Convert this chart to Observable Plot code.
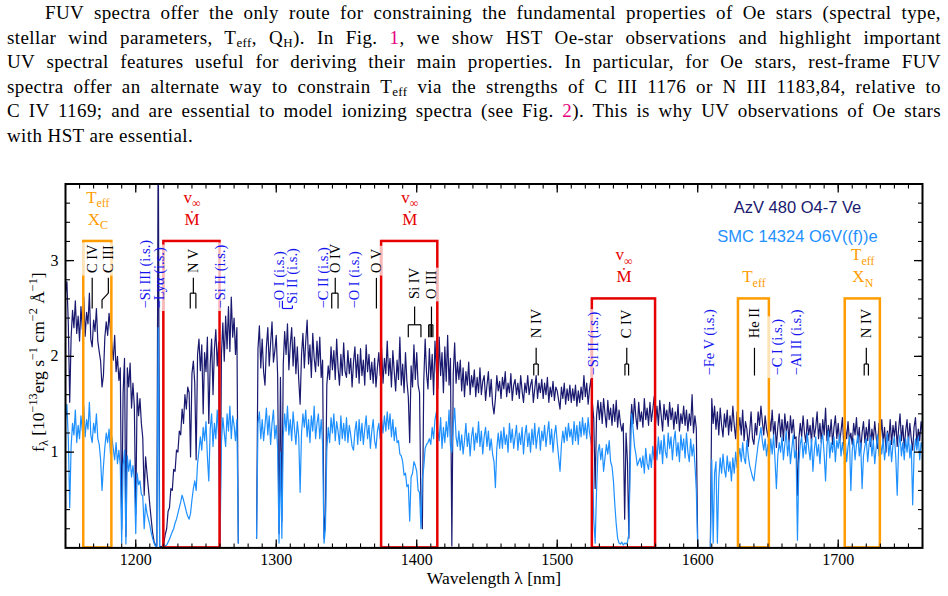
<!DOCTYPE html>
<html>
<head>
<meta charset="utf-8">
<script src="https://cdn.jsdelivr.net/npm/d3@7"></script>
<script src="https://cdn.jsdelivr.net/npm/@observablehq/plot@0.6"></script>
<style>
  html, body { margin: 0; padding: 0; background: #fff; width: 948px; height: 596px; overflow: hidden; }
  #text { height: 150px; box-sizing: border-box; padding: 1px 7px 0 7px;
          font-family: "Liberation Serif", serif; font-size: 19px; line-height: 24.5px;
          letter-spacing: 0.4px; color: #000; }
  #text div { font-family: "Liberation Serif", serif; text-align: justify; text-align-last: justify; height: 24.5px; }
  #text div.first { text-indent: 38px; }
  #text div.last { text-align-last: left; }
  #text sub { font-size: 13px; line-height: 0; vertical-align: -3px; }
  #text .ref { color: #e6007e; }
  #chart svg { display: block; }
</style>
</head>
<body>
<div id="text">
  <div class="first">FUV spectra offer the only route for constraining the fundamental properties of Oe stars (spectral type,</div>
  <div>stellar wind parameters, T<sub>eff</sub>, Q<sub>H</sub>). In Fig. <span class="ref">1</span>, we show HST Oe-star observations and highlight important</div>
  <div>UV spectral features useful for deriving their main properties. In particular, for Oe stars, rest-frame FUV</div>
  <div>spectra offer an alternate way to constrain T<sub>eff</sub> via the strengths of C III 1176 or N III 1183,84, relative to</div>
  <div>C IV 1169; and are essential to model ionizing spectra (see Fig. <span class="ref">2</span>). This is why UV observations of Oe stars</div>
  <div class="last"><span style="font-family: 'Liberation Serif', serif">with HST are essential.</span></div>
</div>
<div id="chart"></div>
<script>
// ---------------------------------------------------------------------------
// Spectra (flux in 1e-13 erg/s/cm2/A), sampled every 1 nm.
// Three detector segments: 1150-1273, 1286-1600, 1609-1760 nm.
// ---------------------------------------------------------------------------
const segmentStart = [1150, 1286, 1609];

// AzV 480 (O4-7 Ve)
const azvA = [
  2.66,2.78,2.34,1.52,2.20,2.48,2.30,2.58,2.24,2.42,
  2.16,2.52,2.28,2.62,2.21,2.46,2.34,2.66,2.18,2.10,
  2.38,2.26,2.50,2.16,2.05,1.95,1.68,1.80,2.20,2.36,
  2.22,2.45,2.28,2.12,1.96,2.22,1.84,2.00,1.75,1.88,
  0.20,1.62,1.98,0.12,1.88,1.68,1.93,1.46,1.72,1.48,
  0.35,1.62,1.38,1.56,1.30,1.15,0.55,0.95,0.78,0.62,
  0.45,0.30,0.16,0.07,0.03,0.02,4.50,0.02,0.01,0.02,
  0.05,0.14,0.20,0.38,0.42,0.62,0.60,0.82,0.80,1.02,
  1.00,1.22,1.18,1.45,1.30,1.60,1.45,1.68,1.62,0.95,
  1.82,1.95,1.72,0.92,2.02,2.18,1.85,2.12,1.40,2.04,
  1.84,2.20,1.30,1.92,2.18,1.60,2.08,2.28,1.90,2.15,
  0.08,2.02,2.35,1.95,2.42,2.08,2.52,2.05,2.62,2.20,
  2.40,2.02,2.30,0.05
];
const azvB = [
  0.10,2.08,2.32,1.88,
  2.18,1.84,1.70,2.10,2.30,1.90,2.14,2.36,1.94,2.06,
  2.22,1.80,0.15,1.78,0.28,1.92,2.26,2.02,2.34,1.86,
  2.12,2.30,1.90,2.20,1.82,2.10,1.76,1.50,2.02,2.24,
  1.88,2.16,2.38,1.92,2.12,1.78,2.24,1.98,1.84,2.16,
  1.90,2.20,1.78,1.96,0.10,0.35,1.70,1.90,1.76,2.10,
  1.86,2.06,1.76,2.18,1.88,1.70,2.02,1.80,2.14,1.84,
  1.78,2.06,1.82,1.98,1.68,1.94,2.10,1.78,2.02,1.72,
  2.08,1.80,1.96,1.70,2.12,1.84,2.02,1.76,1.94,1.72,
  1.98,1.68,1.88,2.04,1.80,2.08,1.72,1.98,1.82,2.16,
  1.80,1.98,1.68,2.06,1.84,1.64,1.96,1.76,2.20,1.70,
  1.92,1.62,2.04,1.74,1.58,1.10,1.90,1.68,2.12,1.76,
  2.04,1.70,1.62,0.45,0.20,1.74,2.18,1.82,1.66,2.08,
  1.76,2.02,1.60,2.16,1.84,1.66,2.20,1.80,2.04,1.62,
  2.10,1.74,2.22,1.70,1.98,0.02,1.82,2.14,1.72,1.94,
  1.76,1.96,1.64,1.88,1.58,1.84,1.70,1.94,1.60,1.80,
  1.68,1.86,1.58,1.78,1.62,1.88,1.60,1.74,1.80,1.54,
  1.70,1.84,1.58,1.76,1.50,1.40,1.56,1.80,1.64,1.74,
  1.56,1.78,1.66,1.84,1.58,1.72,1.62,1.82,1.54,1.70,
  1.76,1.60,1.72,1.56,1.80,1.64,1.52,1.72,1.62,1.80,
  1.60,1.70,1.76,1.52,1.66,1.80,1.56,1.72,1.62,1.76,
  1.56,1.72,1.60,1.78,1.52,1.68,1.58,1.74,1.54,1.68,
  1.64,1.54,1.45,1.68,1.56,1.72,1.50,1.66,1.54,1.70,
  1.52,1.66,1.54,1.70,1.48,1.64,1.52,1.68,1.55,1.80,
  1.58,1.72,1.50,1.66,1.76,1.52,1.35,0.62,1.38,1.54,
  1.34,1.52,1.30,1.56,1.40,1.26,1.54,1.34,1.46,1.28,
  1.50,1.32,1.54,1.26,1.44,1.30,1.22,1.30,0.30,1.20,
  0.90,0.10,1.25,1.50,1.30,1.56,1.36,1.24,1.52,1.32,
  1.42,1.26,1.56,1.34,1.46,1.28,1.52,1.32,1.44,1.58,
  1.30,1.48,1.28,1.54,1.38,1.22,1.50,1.34,1.44,1.27,
  1.52,1.34,1.46,1.24,1.42,1.30,1.50,1.22,1.40,1.30,
  1.48,1.28,1.44,1.22,1.40,1.28,1.60,1.20,1.38,1.25,
  0.02
];
const azvC = [
  0.02,
  1.56,1.30,1.48,1.24,1.42,1.18,1.46,1.28,1.16,1.40,
  1.26,1.44,1.18,1.38,1.22,1.48,1.28,1.14,1.42,1.22,
  1.36,1.18,1.44,1.12,1.32,1.24,1.06,1.22,1.42,1.14,
  1.08,1.30,1.18,1.42,1.28,1.48,1.32,1.18,1.38,1.24,
  1.16,1.36,1.22,1.44,1.18,1.32,1.05,1.26,1.40,1.16,
  1.34,1.12,1.40,1.22,1.32,1.10,1.38,1.20,1.34,1.14,
  1.16,0.55,1.14,1.30,1.16,1.38,1.20,1.10,1.34,1.18,
  1.28,1.10,1.36,1.16,1.26,1.42,1.14,1.30,1.10,1.34,
  1.18,1.46,1.12,1.28,1.16,1.34,1.08,1.26,1.38,1.14,
  1.30,1.10,1.22,1.36,1.06,1.26,1.14,1.32,1.12,1.20,
  1.08,1.30,1.18,1.36,1.10,1.26,1.02,1.20,1.32,1.10,
  1.26,1.12,1.34,1.06,1.24,1.12,1.32,1.16,1.04,1.30,
  1.14,1.34,1.10,1.26,1.00,1.22,1.12,1.34,1.08,1.28,
  1.16,1.32,1.06,1.24,1.40,1.12,1.28,1.04,1.22,1.34,
  1.10,1.30,1.14,1.02,1.26,1.36,1.08,1.24,1.12,1.32,
  1.20
];

// SMC 14324 (O6V((f))e)
const smcA = [
  1.34,1.50,1.14,0.42,1.06,1.30,1.18,1.44,1.10,1.28,
  1.14,1.38,1.22,1.48,1.16,1.34,1.24,1.52,1.18,1.10,
  1.30,1.20,1.40,1.14,1.08,0.92,0.60,0.85,1.05,1.20,
  1.10,1.24,0.98,1.16,1.04,0.92,1.10,0.88,1.02,0.86,
  0.05,0.86,1.02,0.04,0.96,0.80,0.92,0.74,0.86,0.72,
  0.15,0.78,0.66,0.70,0.56,0.54,0.20,0.46,0.36,0.30,
  0.24,0.16,0.10,0.05,0.02,0.01,2.30,0.01,0.00,0.01,
  0.01,0.02,0.03,0.06,0.09,0.13,0.17,0.20,0.26,0.30,
  0.36,0.42,0.48,0.55,0.50,0.44,0.38,0.33,0.30,0.36,
  0.50,0.62,0.70,0.60,0.88,1.02,1.16,1.02,1.26,1.12,
  1.32,0.95,0.70,1.24,1.40,1.06,1.30,1.14,1.44,1.16,
  0.05,1.10,1.36,1.20,1.06,1.40,1.22,1.48,1.14,1.38,
  1.28,1.12,1.34,0.05
];
const smcB = [
  0.10,1.30,1.42,1.14,
  1.34,1.12,1.28,1.46,1.18,1.38,1.08,1.30,1.44,1.14,
  1.28,1.04,0.05,1.00,0.10,1.16,1.40,1.22,1.48,1.18,
  1.34,1.12,1.42,1.24,1.08,1.32,1.16,0.58,1.20,1.40,
  1.26,1.44,1.16,1.34,1.10,1.38,1.22,1.48,1.14,1.30,
  1.40,1.14,1.34,1.08,0.05,0.20,1.02,1.26,1.10,1.36,
  1.20,1.40,1.12,1.32,1.22,1.08,1.38,1.14,1.30,1.12,
  1.36,1.10,1.28,1.18,1.06,1.02,1.22,1.32,1.08,1.34,
  1.12,1.30,1.08,1.24,1.38,1.14,1.28,1.04,1.22,1.34,
  1.12,1.04,1.22,1.30,1.14,1.34,1.20,1.38,1.22,1.42,
  1.24,1.40,1.16,1.34,1.12,1.26,1.10,1.12,0.98,0.96,
  0.90,0.76,0.78,0.64,0.66,0.28,0.74,0.78,0.90,0.86,
  0.80,0.60,0.58,0.20,0.72,0.84,1.04,1.08,1.10,1.14,
  1.08,1.26,1.14,1.34,1.42,1.22,1.12,1.36,1.04,1.26,
  1.10,1.32,1.16,1.44,1.06,1.00,1.28,1.46,1.16,1.06,
  1.22,1.02,1.18,0.98,1.12,1.30,1.06,1.20,0.96,1.16,
  1.26,1.02,1.20,1.10,1.32,1.06,1.22,0.98,1.16,1.26,
  1.06,1.22,1.02,1.14,0.98,0.90,0.63,1.04,1.20,1.04,
  1.22,1.04,1.26,1.08,1.18,1.00,1.30,1.10,1.24,1.04,
  1.16,1.28,1.02,1.20,1.08,1.26,0.98,1.18,1.28,1.06,
  1.20,1.00,1.24,1.08,1.30,1.04,1.18,1.26,1.02,1.22,
  1.12,1.28,1.06,1.20,1.32,1.08,1.24,1.00,1.18,1.28,
  1.10,0.95,0.80,1.08,1.22,1.10,1.26,1.12,1.30,1.16,
  1.24,1.08,1.32,1.12,1.28,1.08,1.32,1.16,1.36,1.18,
  1.30,1.14,1.36,1.20,1.12,1.00,0.30,0.05,0.60,1.00,
  1.08,0.92,1.04,0.80,0.94,1.08,0.98,1.12,0.90,0.85,
  0.70,0.45,0.25,0.10,0.05,0.04,0.06,0.03,0.05,0.04,
  0.06,0.15,0.90,1.40,1.24,1.06,0.98,0.86,0.90,0.94,
  0.84,0.96,0.78,1.04,0.88,0.82,0.98,0.84,1.06,0.92,
  1.08,0.92,1.16,0.98,1.12,0.88,1.18,1.00,0.94,1.20,
  1.04,1.16,0.92,1.12,1.22,0.96,1.10,0.90,1.18,1.02,
  1.14,0.94,1.20,1.00,0.90,1.14,0.96,1.08,0.88,0.60,
  0.00
];
const smcC = [
  0.00,
  0.92,0.05,0.78,0.90,0.05,0.72,0.94,0.78,0.98,0.82,
  0.74,0.96,0.80,0.90,0.70,0.94,0.78,1.00,0.84,0.94,
  1.04,0.90,1.10,0.94,0.88,1.12,0.96,0.86,0.80,0.74,
  0.70,0.84,0.96,1.08,1.16,1.26,1.12,1.02,1.14,0.96,
  1.08,0.92,1.14,0.98,1.18,0.92,0.62,0.96,1.10,1.00,
  1.16,0.92,1.08,1.22,0.96,1.12,0.88,1.04,1.18,0.94,
  1.02,0.08,0.88,1.08,1.16,0.94,1.10,0.98,1.20,1.04,
  0.92,1.14,0.80,1.02,1.16,0.96,1.08,0.88,1.12,1.18,
  0.98,0.70,1.06,1.22,0.94,1.10,1.00,1.16,0.90,1.12,
  1.04,1.18,0.96,1.10,0.98,1.14,0.90,1.06,1.16,0.60,
  1.02,1.14,0.92,1.08,1.18,0.96,1.10,0.62,0.96,1.06,
  1.14,0.90,1.08,1.16,0.96,1.12,0.88,1.04,1.18,0.96,
  1.10,0.98,1.14,0.92,1.06,1.20,0.96,1.12,0.90,1.08,
  1.16,0.94,0.55,1.06,1.18,0.96,1.10,0.92,1.14,1.00,
  1.16,0.94,1.08,0.45,0.98,1.14,1.02,1.16,0.92,1.10,
  1.04
];

const starNames = ["AzV 480 O4-7 Ve", "SMC 14324 O6V((f))e"];

// Diagnostic windows: wavelength range, box top (flux units), diagnostic labels
const boxLo    = [1163, 1220, 1375, 1525, 1629, 1705];
const boxHi    = [1183, 1260, 1415, 1570, 1651, 1730];
const boxTop   = [3.2, 3.2, 3.2, 2.6, 2.6, 2.6];
const boxKind  = ["teff", "wind", "wind", "wind", "teff", "teff"];
const boxUpper = ["T_{eff}", "v_{∞}", "v_{∞}", "v_{∞}", "", "T_{eff}"];
const boxLower = ["X_{C}", "Ṁ", "Ṁ", "Ṁ", "T_{eff}", "X_{N}"];

// Stellar line identifications: label position and component wavelengths
const starLineName  = ["C IV", "C III", "N V", "O IV", "O V", "Si IV", "O III", "N IV", "C IV", "He II", "N IV"];
const starLineAt    = [1169, 1180.5, 1241, 1342, 1371.3, 1398.5, 1410.5, 1485, 1549.5, 1640.4, 1720];
const starLineComps = [[1169], [1176], [1238.8, 1242.8], [1339.5, 1344], [1371.3], [1394, 1403],
                       [1408.5, 1409.5, 1410.5, 1411.5], [1483.3, 1486.5], [1548.2, 1550.8], [1640.4], [1718.5, 1721.5]];
const starLineTier  = [0, 0, 0, 0, 0, 1, 1, 2, 2, 2, 2];

// Interstellar line identifications
const ismName = ["Si III", "Lyα", "Si II", "O I", "Si II", "C II", "O I", "Si II", "Fe V", "C I", "Al II"];
const ismAt   = [1206.5, 1216.5, 1260, 1302.2, 1311.5, 1333.5, 1355.6, 1526, 1608, 1656.5, 1670.5];
const ismLine = [1206.5, 1216.5, 1260, 1302.2, 1304.4, 1333.5, 1355.6, 1526, 1608, 1656.5, 1670.5];
const ismTier = [0, 0, 0, 0, 0, 0, 0, 2, 2, 2, 2];

// Axis ticks
const xMajor = [1200, 1300, 1400, 1500, 1600, 1700];
const yMajor = [1, 2, 3];

// ---------------------------------------------------------------------------
const colAzV = "#191970", colSMC = "#1e90ff";
const colRed = "#e60000", colOrange = "#ff9c00", colIsm = "#1414f0";

// vertical layout of the annotation tiers (flux units)
const tiers = [
  {text: 2.87, stem: 2.82, bar: 2.66, bottom: 2.50},
  {text: 2.60, stem: 2.52, bar: 2.33, bottom: 2.20},
  {text: 2.19, stem: 2.09, bar: 1.92, bottom: 1.80}
];

function tidy(segs, star) {
  return segs.flatMap((vals, k) => vals.map((f, i) => ({lambda: segmentStart[k] + i, flux: f, seg: k, star})));
}
const azvRows = tidy([azvA, azvB, azvC], starNames[0]);
const smcRows = tidy([smcA, smcB, smcC], starNames[1]);

const boxes = boxLo.map((lo, i) => ({lo, hi: boxHi[i], top: boxTop[i], kind: boxKind[i],
                                     upper: boxUpper[i], lower: boxLower[i]}));
const stellar = starLineName.map((name, i) => ({name, at: starLineAt[i], comps: starLineComps[i], tier: tiers[starLineTier[i]]}));
const ism = ismName.map((name, i) => ({name, at: ismAt[i], line: ismLine[i], tier: tiers[ismTier[i]]}));

// tick marks / combs under the stellar labels
const stellarSegs = stellar.flatMap(({at, comps, tier: t}) => {
  const s = [];
  if (comps.length === 1 && comps[0] === at) s.push([at, t.stem, at, t.bottom]);
  else if (comps.length === 1) {
    const c = comps[0];
    s.push([at, t.stem, at, t.bar], [at, t.bar, c, t.bar - 0.07], [c, t.bar - 0.07, c, t.bottom]);
  } else {
    s.push([at, t.stem, at, t.bar], [d3.min(comps), t.bar, d3.max(comps), t.bar]);
    comps.forEach(c => s.push([c, t.bar, c, t.bottom]));
  }
  return s.map(([x1, y1, x2, y2]) => ({x1, y1, x2, y2}));
});
// leaders for interstellar labels placed away from their line
const ismSegs = ism.filter(d => d.at !== d.line).flatMap(({at, line, tier: t}) => [
  [line, t.bottom + 0.08, line, t.bottom], [line, t.bottom, at, t.bottom], [at, t.bottom, at, t.bottom + 0.03]
]).map(([x1, y1, x2, y2]) => ({x1, y1, x2, y2}));

const serif = '"Liberation Serif", "Times New Roman", serif';
const sans = '"Liberation Sans", Arial, sans-serif';
const minorX = d3.range(1150, 1761, 10);
const minorY = d3.range(1, 19).map(k => k / 5);

const chart = Plot.plot({
  width: 948,
  height: 446,
  marginTop: 33.5,
  marginRight: 26,
  marginBottom: 48.6,
  marginLeft: 65,
  x: {domain: [1150, 1760], label: null},
  y: {domain: [0, 3.8], label: null},
  style: {fontFamily: serif, fontSize: "16px", color: "#000", background: "#fff"},
  marks: [
    // spectra
    Plot.line(azvRows, {x: "lambda", y: "flux", z: "seg", stroke: colAzV, strokeWidth: 1.2, clip: true}),
    Plot.line(smcRows, {x: "lambda", y: "flux", z: "seg", stroke: colSMC, strokeWidth: 1.2, clip: true}),

    // diagnostic windows
    Plot.rect(boxes.filter(d => d.kind === "wind"), {x1: "lo", x2: "hi", y1: d => 0, y2: "top", fill: "none",
                                                     stroke: colRed, strokeWidth: 2.5, ariaDescription: "window"}),
    Plot.rect(boxes.filter(d => d.kind === "teff"), {x1: "lo", x2: "hi", y1: d => 0, y2: "top", fill: "none",
                                                     stroke: colOrange, strokeWidth: 2.5, ariaDescription: "window"}),
    Plot.text(boxes, {x: d => (d.lo + d.hi) / 2, y: "top", text: "lower", dy: -16.5, lineAnchor: "bottom",
                      fill: d => d.kind === "wind" ? colRed : colOrange, fontSize: 17}),
    Plot.text(boxes, {x: d => (d.lo + d.hi) / 2, y: "top", text: "upper", dy: -38.5, lineAnchor: "bottom",
                      fill: d => d.kind === "wind" ? colRed : colOrange, fontSize: 17}),

    // line identifications
    Plot.link(stellarSegs, {x1: "x1", y1: "y1", x2: "x2", y2: "y2", stroke: "#000", strokeWidth: 1.2}),
    Plot.text(stellar, {x: "at", y: d => d.tier.text, text: "name", rotate: -90, textAnchor: "start",
                        lineAnchor: "middle", fill: "#000", fontSize: 14.5, ariaDescription: "line-id"}),
    Plot.link(ismSegs, {x1: "x1", y1: "y1", x2: "x2", y2: "y2", stroke: colIsm, strokeWidth: 1.2}),
    Plot.text(ism, {x: "at", y: d => d.at === d.line ? d.tier.bottom : d.tier.bottom + 0.05,
                    text: d => (d.at === d.line ? "\u2212" : "") + d.name + " (i.s.)",
                    rotate: -90, textAnchor: "start", lineAnchor: "middle", fill: colIsm, fontSize: 14.5,
                    ariaDescription: "line-id"}),

    // star names
    Plot.text([starNames[0]], {x: d => 1671, y: d => 3.55, fill: colAzV, fontFamily: sans, fontSize: 16.5}),
    Plot.text([starNames[1]], {x: d => 1671, y: d => 3.25, fill: colSMC, fontFamily: sans, fontSize: 16.5}),

    // axes: inward ticks on all four sides
    Plot.axisX(xMajor, {anchor: "bottom", tickSize: -8, tickPadding: 14, tickFormat: d => String(d), fontSize: 16, label: null, strokeWidth: 1.3}),
    Plot.axisX(minorX, {anchor: "bottom", tickSize: -4, tickFormat: () => "", label: null, strokeWidth: 1.1}),
    Plot.axisX(xMajor, {anchor: "top", tickSize: -8, tickFormat: () => "", label: null, strokeWidth: 1.3}),
    Plot.axisX(minorX, {anchor: "top", tickSize: -4, tickFormat: () => "", label: null, strokeWidth: 1.1}),
    Plot.axisY(yMajor, {anchor: "left", tickSize: -9, tickPadding: 16, tickFormat: d => String(d), fontSize: 16, label: null, strokeWidth: 1.3}),
    Plot.axisY(minorY, {anchor: "left", tickSize: -5, tickFormat: () => "", label: null, strokeWidth: 1.1}),
    Plot.axisY(yMajor, {anchor: "right", tickSize: -9, tickFormat: () => "", label: null, strokeWidth: 1.3}),
    Plot.axisY(minorY, {anchor: "right", tickSize: -5, tickFormat: () => "", label: null, strokeWidth: 1.1}),
    Plot.frame({stroke: "#000", strokeWidth: 2}),

    // axis titles
    Plot.text(["f_{λ} [10^{\u221213}erg s^{\u22121} cm^{\u22122} Å^{\u22121}]"],
              {x: d => 1150, y: d => 1.94, dx: -27, rotate: -90, textAnchor: "middle", lineAnchor: "middle", fontSize: 17.5}),
    Plot.text(["Wavelength λ [nm]"], {frameAnchor: "bottom", dy: 36.5, lineAnchor: "bottom", fontSize: 17.5})
  ]
});

document.getElementById("chart").appendChild(chart);

// Render _{..} and ^{..} as sub/superscripts
const svgNS = "http://www.w3.org/2000/svg";
chart.querySelectorAll("text").forEach(t => {
  const s = t.textContent;
  if (!/[_^]\{/.test(s)) return;
  const fs = parseFloat(getComputedStyle(t).fontSize) || 16;
  t.textContent = "";
  let cur = 0, last = 0, m;
  const re = /([_^])\{([^}]*)\}/g;
  const add = (str, off, small) => {
    if (!str) return;
    const ts = document.createElementNS(svgNS, "tspan");
    ts.textContent = str;
    if (off !== cur) ts.setAttribute("dy", off - cur);
    if (small) ts.setAttribute("font-size", (0.7 * fs) + "px");
    cur = off;
    t.appendChild(ts);
  };
  while ((m = re.exec(s))) {
    add(s.slice(last, m.index), 0, false);
    add(m[2], m[1] === "_" ? 0.24 * fs : -0.4 * fs, true);
    last = re.lastIndex;
  }
  add(s.slice(last), 0, false);
});

// Line-identification labels sit on a translucent white backing:
// where a label reaches a window edge, that edge is paled.
(function paleEdgesUnderLabels() {
  const xs = chart.scale("x"), ys = chart.scale("y");
  const box0 = chart.getBoundingClientRect();
  const pad = 2.5, half = 1.5;
  const labels = [...chart.querySelectorAll('g[aria-description="line-id"] text')].map(t => {
    const r = t.getBoundingClientRect();
    return {x0: r.left - box0.left - pad, x1: r.right - box0.left + pad,
            y0: r.top - box0.top - pad, y1: r.bottom - box0.top + pad};
  });
  const strips = [];
  boxes.forEach(b => {
    const xl = xs.apply(b.lo), xr = xs.apply(b.hi), yt = ys.apply(b.top), yb = ys.apply(0);
    labels.forEach(L => {
      [xl, xr].forEach(ex => {
        if (ex + half > L.x0 && ex - half < L.x1) {
          const a = Math.max(L.y0, yt + half), c = Math.min(L.y1, yb);
          if (c > a) strips.push({x: ex - half, y: a, w: 2 * half, h: c - a});
        }
      });
      // top edge: only where the label itself rises above the edge
      if (L.y0 + pad < yt && L.y1 > yt) {
        const a = Math.max(L.x0, xl - half), c = Math.min(L.x1, xr + half);
        if (c > a) strips.push({x: a, y: yt - half, w: c - a, h: 2 * half});
      }
    });
  });
  const windows = chart.querySelectorAll('g[aria-description="window"]');
  const anchor = windows[windows.length - 1];
  const g = document.createElementNS(svgNS, "g");
  g.setAttribute("fill", "#fff");
  g.setAttribute("fill-opacity", "0.72");
  strips.forEach(s => {
    const r = document.createElementNS(svgNS, "rect");
    r.setAttribute("x", s.x); r.setAttribute("y", s.y);
    r.setAttribute("width", s.w); r.setAttribute("height", s.h);
    g.appendChild(r);
  });
  anchor.after(g);
})();
</script>
</body>
</html>
